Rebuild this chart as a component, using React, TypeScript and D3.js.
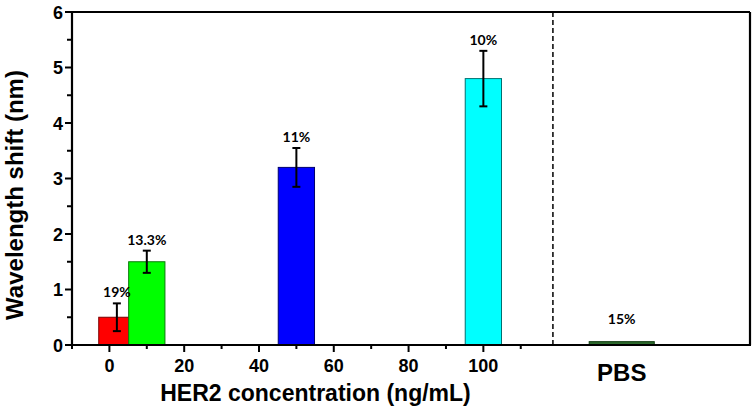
import React from "react";
import * as d3 from "d3";

// HER2 concentration bars (x in ng/mL units on the linear axis)
const concPositions = [2, 10, 50, 100];
const concMeans = [0.5, 1.5, 3.2, 4.8];
const concErrors = [0.25, 0.2, 0.35, 0.5];
const concRsd = ["19%", "13.3%", "11%", "10%"];
const concFill = ["#ff0000", "#00ff00", "#0000ff", "#00ffff"];
const concStroke = ["#7a0000", "#0a7a0a", "#00006e", "#007070"];

// PBS control
const pbsPosition = 137;
const pbsMean = 0.06;
const pbsError = 0;
const pbsRsd = "15%";
const pbsLabel = "PBS";

const xMajorTicks = [0, 20, 40, 60, 80, 100];
const xMinorTicks = [-10, 10, 30, 50, 70, 90, 110];
const yMajorTicks = [0, 1, 2, 3, 4, 5, 6];
const yMinorTicks = [0.5, 1.5, 2.5, 3.5, 4.5, 5.5];
const separatorX = 118.6;

const W = 755;
const H = 410;
const left = 72;
const right = 750;
const top = 12;
const bottom = 345;
const FONT = "'Liberation Sans', Arial, sans-serif";
const LFONT = "Lato, 'Open Sans', sans-serif";

export default function App() {
  const x = d3.scaleLinear().domain([-10, 171.3]).range([left, right]);
  const y = d3.scaleLinear().domain([0, 6]).range([bottom, top]);
  const barW = 9.7;
  const pbsW = 17.4;

  const cap = 4;

  return (
    <svg
      width={W}
      height={H}
      style={{ position: "absolute", left: 0, top: 0, background: "#fff" }}
    >
      <rect x={0} y={0} width={W} height={H} fill="#fff" />
      {/* bars */}
      {concPositions.map((p, i) => (
        <rect
          key={"b" + i}
          x={x(p - barW / 2)}
          y={y(concMeans[i])}
          width={x(p + barW / 2) - x(p - barW / 2)}
          height={y(0) - y(concMeans[i])}
          fill={concFill[i]}
          stroke={concStroke[i]}
          strokeWidth={1}
        />
      ))}
      <rect
        x={x(pbsPosition - pbsW / 2)}
        y={y(pbsMean)}
        width={x(pbsPosition + pbsW / 2) - x(pbsPosition - pbsW / 2)}
        height={y(0) - y(pbsMean)}
        fill="#2e6b2e"
        stroke="#0d3a0d"
        strokeWidth={1}
      />
      {/* error bars */}
      {concPositions.map((p, i) => {
        const cx = x(p);
        const y1 = y(concMeans[i] + concErrors[i]);
        const y2 = y(concMeans[i] - concErrors[i]);
        return (
          <g key={"e" + i} stroke="#000" strokeWidth={2}>
            <line x1={cx} x2={cx} y1={y1} y2={y2} />
            <line x1={cx - cap} x2={cx + cap} y1={y1} y2={y1} />
            <line x1={cx - cap} x2={cx + cap} y1={y2} y2={y2} />
          </g>
        );
      })}
      {/* RSD labels */}
      {concPositions.map((p, i) => (
        <text
          key={"l" + i}
          x={x(p)}
          y={y(concMeans[i] + concErrors[i]) - 6}
          textAnchor="middle"
          fontFamily={LFONT}
          fontWeight={700}
          fontSize={14}
          fill="#000"
        >
          {concRsd[i]}
        </text>
      ))}
      <text
        x={x(pbsPosition)}
        y={y(pbsMean + pbsError) - 18}
        textAnchor="middle"
        fontFamily={LFONT}
        fontWeight={700}
        fontSize={14}
        fill="#000"
      >
        {pbsRsd}
      </text>
      {/* separator */}
      <line
        x1={x(separatorX)}
        x2={x(separatorX)}
        y1={top}
        y2={bottom}
        stroke="#000"
        strokeWidth={1.5}
        strokeDasharray="5,3"
      />
      {/* frame */}
      <line x1={left} x2={right} y1={top} y2={top} stroke="#000" strokeWidth={2.2} />
      <line x1={right} x2={right} y1={top} y2={bottom} stroke="#000" strokeWidth={2.2} />
      <line x1={left} x2={right + 1} y1={bottom} y2={bottom} stroke="#000" strokeWidth={2.2} />
      <line x1={left} x2={left} y1={top - 1} y2={bottom + 1} stroke="#000" strokeWidth={2.2} />
      {/* y ticks */}
      {yMajorTicks.map((t) => (
        <g key={"ym" + t}>
          <line x1={left - 7} x2={left} y1={y(t)} y2={y(t)} stroke="#000" strokeWidth={2} />
          <text
            x={left - 9}
            y={y(t) + 6.5}
            textAnchor="end"
            fontFamily={FONT}
            fontWeight={700}
            fontSize={18}
          >
            {t}
          </text>
        </g>
      ))}
      {yMinorTicks.map((t) => (
        <line key={"yn" + t} x1={left - 5} x2={left} y1={y(t)} y2={y(t)} stroke="#000" strokeWidth={2} />
      ))}
      {/* x ticks */}
      {xMajorTicks.map((t) => (
        <g key={"xm" + t}>
          <line x1={x(t)} x2={x(t)} y1={bottom} y2={bottom + 7} stroke="#000" strokeWidth={2} />
          <text
            x={x(t)}
            y={372}
            textAnchor="middle"
            fontFamily={FONT}
            fontWeight={700}
            fontSize={18}
          >
            {t}
          </text>
        </g>
      ))}
      {xMinorTicks.map((t) => (
        <line key={"xn" + t} x1={x(t)} x2={x(t)} y1={bottom} y2={bottom + 4} stroke="#000" strokeWidth={2} />
      ))}
      <text
        x={x(pbsPosition)}
        y={381}
        textAnchor="middle"
        fontFamily={FONT}
        fontWeight={700}
        fontSize={24}
      >
        {pbsLabel}
      </text>
      {/* axis titles */}
      <text
        x={315.5}
        y={401}
        textAnchor="middle"
        fontFamily={FONT}
        fontWeight={700}
        fontSize={23}
      >
        HER2 concentration (ng/mL)
      </text>
      <text
        transform={`translate(23,195) rotate(-90)`}
        textAnchor="middle"
        fontFamily={FONT}
        fontWeight={700}
        fontSize={24}
      >
        Wavelength shift (nm)
      </text>
    </svg>
  );
}
